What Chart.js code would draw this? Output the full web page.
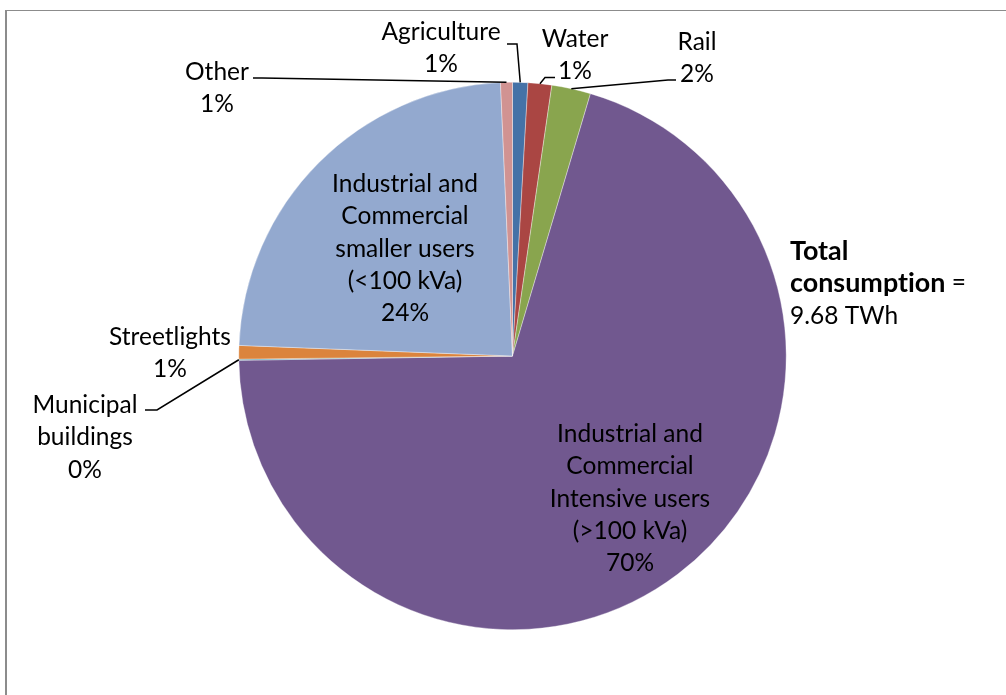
<!DOCTYPE html>
<html>
<head>
<meta charset="utf-8">
<script src="https://cdn.jsdelivr.net/npm/chart.js@4/dist/chart.umd.min.js"></script>
<style>
  html, body { margin: 0; padding: 0; background: #fff; }
  #wrap { position: relative; width: 1006px; height: 695px; overflow: hidden; }
  #frame { position: absolute; left: 5px; top: 10px; width: 1100px; height: 800px;
           border-left: 2px solid #8c8c8c; border-top: 1px solid #8c8c8c; }
  canvas { position: absolute; left: 0; top: 0; }
</style>
</head>
<body>
<div id="wrap">
  <div id="frame"></div>
  <canvas id="c" width="1006" height="695"></canvas>
</div>
<script>
// ---- data ----
const categories = [
  'Agriculture',
  'Water',
  'Rail',
  'Industrial and Commercial Intensive users (>100 kVa)',
  'Municipal buildings',
  'Streetlights',
  'Industrial and Commercial smaller users (<100 kVa)',
  'Other'
];
const shares = [0.9, 1.4, 2.3, 70.2, 0.07, 0.8, 23.7, 0.7];
const percentLabels = ['1%', '1%', '2%', '70%', '0%', '1%', '24%', '1%'];
const labelLines = [
  ['Agriculture'],
  ['Water'],
  ['Rail'],
  ['Industrial and', 'Commercial', 'Intensive users', '(>100 kVa)'],
  ['Municipal', 'buildings'],
  ['Streetlights'],
  ['Industrial and', 'Commercial', 'smaller users', '(<100 kVa)'],
  ['Other']
];
const totalLabel = ['Total', 'consumption', ' =', '9.68 TWh'];

// ---- style / layout ----
const colors = ['#4572A7', '#AA4643', '#89A54E', '#71588F', '#4198AF', '#DB843D', '#93A9CF', '#D19392'];
const FONT_FAMILY = 'Lato, "Open Sans", sans-serif';
const LINE_STEP = 32.3;
// label centre (x, y of first line), leader elbow points
const labelLayout = [
  { x: 441, y: 32, leader: [[517, 44], [507, 44]] },
  { x: 575, y: 39, leader: [[545, 77.5], [555, 77.5]] },
  { x: 697, y: 42, leader: [[668, 80], [676, 80]] },
  { x: 630, y: 434, leader: null },
  { x: 85,  y: 405, leader: [[157, 410], [145, 410]] },
  { x: 170, y: 337, leader: null },
  { x: 405, y: 184, leader: null },
  { x: 217, y: 72,  leader: [[262, 78], [253, 78]] }
];
const totalPos = { x: 790, y: 251 };

// fit font sizes to the reference text widths
const mctx = document.createElement('canvas').getContext('2d');
mctx.font = '100px ' + FONT_FAMILY;
const FONT_SIZE = Math.round(100 * 119 / mctx.measureText('Agriculture').width * 10) / 10;
mctx.font = 'bold 100px ' + FONT_FAMILY;
const BOLD_SIZE = Math.round(100 * 156 / mctx.measureText('consumption').width * 10) / 10;

const labelPlugin = {
  id: 'sliceLabels',
  afterDatasetsDraw(chart) {
    const ctx = chart.ctx;
    const meta = chart.getDatasetMeta(0);
    ctx.save();
    ctx.strokeStyle = '#000';
    ctx.lineWidth = 1.5;
    meta.data.forEach((arc, i) => {
      const p = arc.getProps(['x', 'y', 'startAngle', 'endAngle', 'outerRadius'], true);
      const mid = (p.startAngle + p.endAngle) / 2;
      const ax = p.x + Math.cos(mid) * p.outerRadius;
      const ay = p.y + Math.sin(mid) * p.outerRadius;
      const lay = labelLayout[i];
      if (lay.leader) {
        ctx.beginPath();
        ctx.moveTo(ax, ay);
        lay.leader.forEach(pt => ctx.lineTo(pt[0], pt[1]));
        ctx.stroke();
      }
    });
    ctx.fillStyle = '#000';
    ctx.textAlign = 'center';
    ctx.textBaseline = 'middle';
    if ('letterSpacing' in ctx) ctx.letterSpacing = '0.01px'; // avoids ligatures
    ctx.font = FONT_SIZE + 'px ' + FONT_FAMILY;
    meta.data.forEach((arc, i) => {
      const lay = labelLayout[i];
      const lines = labelLines[i].concat([percentLabels[i]]);
      lines.forEach((t, k) => ctx.fillText(t, lay.x, lay.y + k * LINE_STEP));
    });
    // total
    ctx.textAlign = 'left';
    ctx.font = 'bold ' + BOLD_SIZE + 'px ' + FONT_FAMILY;
    ctx.fillText(totalLabel[0], totalPos.x, totalPos.y);
    ctx.fillText(totalLabel[1], totalPos.x, totalPos.y + LINE_STEP);
    const w = ctx.measureText(totalLabel[1]).width;
    ctx.font = FONT_SIZE + 'px ' + FONT_FAMILY;
    ctx.fillText(totalLabel[2], totalPos.x + w, totalPos.y + LINE_STEP);
    ctx.fillText(totalLabel[3], totalPos.x, totalPos.y + 2 * LINE_STEP);
    ctx.restore();
  }
};

new Chart(document.getElementById('c'), {
  type: 'pie',
  data: {
    labels: categories,
    datasets: [{
      data: shares,
      backgroundColor: colors,
      borderColor: 'rgba(255,255,255,0.6)',
      borderWidth: 0.6
    }]
  },
  options: {
    responsive: false,
    animation: false,
    layout: { padding: { top: 82, bottom: 65, left: 238.5, right: 219.5 } },
    plugins: { legend: { display: false }, tooltip: { enabled: false } }
  },
  plugins: [labelPlugin]
});
</script>
</body>
</html>
